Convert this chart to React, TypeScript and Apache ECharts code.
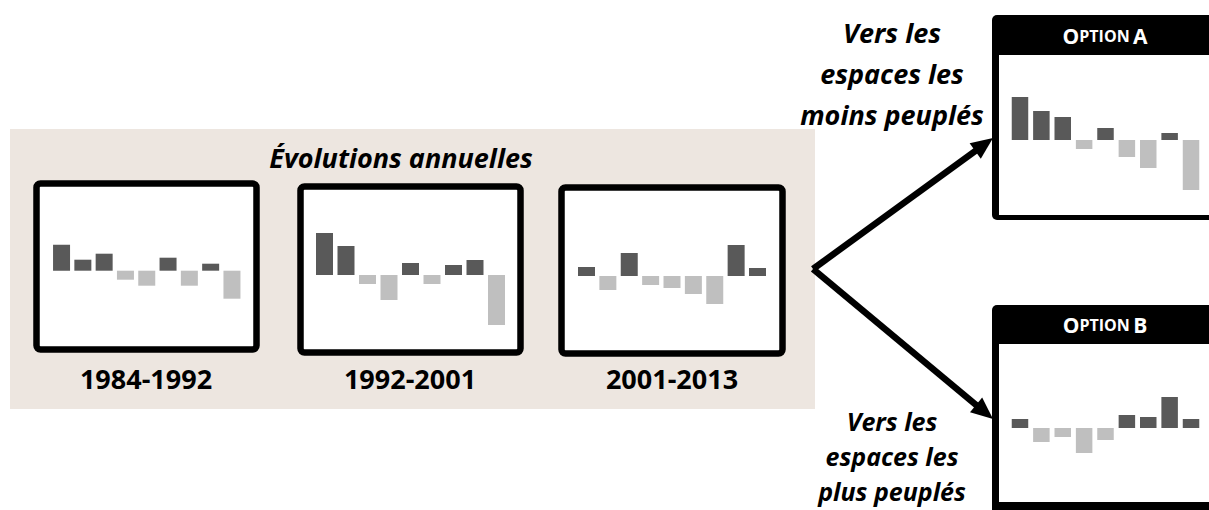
import React, { useEffect, useRef } from "react";
import * as echarts from "echarts";

const categories = ["R1", "R2", "R3", "R4", "R5", "R6", "R7", "R8", "R9"];
const periods = ["1984-1992", "1992-2001", "2001-2013"];
const values1984 = [26, 11, 17, -9, -15, 13, -15, 7, -28];
const values1992 = [42, 29, -9, -25, 12, -9, 10, 15, -50];
const values2001 = [9, -14, 23, -9, -12, -18, -28, 31, 8];
const valuesOptionA = [43, 29, 23, -9, 12, -17, -28, 7, -50];
const valuesOptionB = [9, -14, -9, -25, -12, 13, 11, 31, 9];
const optionLabels = ["A", "B"];
const title = "Évolutions annuelles";
const topCaption = ["Vers les", "espaces les", "moins peuplés"];
const bottomCaption = ["Vers les", "espaces les", "plus peuplés"];

const DARK = "#595959";
const LIGHT = "#BFBFBF";
const FONT = "'Open Sans', 'DejaVu Sans', sans-serif";

function arrow(x0: number, y0: number, x1: number, y1: number) {
  const dx = x1 - x0;
  const dy = y1 - y0;
  const len = Math.sqrt(dx * dx + dy * dy);
  const ux = dx / len;
  const uy = dy / len;
  const hl = 22;
  const hw = 9.5;
  const bx = x1 - ux * hl;
  const by = y1 - uy * hl;
  return [
    {
      type: "line",
      shape: { x1: x0, y1: y0, x2: bx + ux * 2, y2: by + uy * 2 },
      style: { stroke: "#000", lineWidth: 6.5, lineCap: "butt" },
      z: 5,
    },
    {
      type: "polygon",
      shape: {
        points: [
          [x1, y1],
          [bx - uy * hw, by + ux * hw],
          [bx + uy * hw, by - ux * hw],
        ],
      },
      style: { fill: "#000" },
      z: 5,
    },
  ];
}

export default function App() {
  const ref = useRef<HTMLDivElement>(null);
  useEffect(() => {
    if (!ref.current) return;
    const chart = echarts.init(ref.current, null, { renderer: "svg" });

    const sets = [values1984, values1992, values2001, valuesOptionA, valuesOptionB];
    const grids = [
      { left: 50.9, top: 200.7, width: 191.7, height: 140 },
      { left: 313.75, top: 205, width: 193.5, height: 140 },
      { left: 575.8, top: 206, width: 192.4, height: 140 },
      { left: 1009.3, top: 70, width: 192.4, height: 140 },
      { left: 1009.3, top: 358, width: 192.4, height: 140 },
    ];

    const boxStyle = { fill: "#fff", stroke: "#000", lineWidth: 6.5 };
    const graphics: any[] = [
      { type: "rect", shape: { x: 10, y: 129, width: 805, height: 280 }, style: { fill: "#EDE6E0" }, z: 0 },
      { type: "rect", shape: { x: 36.5, y: 183.5, width: 220, height: 166, r: 4 }, style: boxStyle, z: 1 },
      { type: "rect", shape: { x: 300.5, y: 186.5, width: 220, height: 166, r: 4 }, style: boxStyle, z: 1 },
      { type: "rect", shape: { x: 561.5, y: 187.5, width: 221, height: 166, r: 4 }, style: boxStyle, z: 1 },
      { type: "rect", shape: { x: 992, y: 15, width: 232, height: 205, r: 5 }, style: { fill: "#000" }, z: 1 },
      { type: "rect", shape: { x: 999, y: 55, width: 220, height: 160 }, style: { fill: "#fff" }, z: 1 },
      { type: "rect", shape: { x: 992, y: 305, width: 232, height: 210, r: 5 }, style: { fill: "#000" }, z: 1 },
      { type: "rect", shape: { x: 999, y: 344, width: 220, height: 158 }, style: { fill: "#fff" }, z: 1 },
      {
        type: "text",
        x: 401,
        y: 157,
        style: {
          text: title,
          font: `italic bold 27px ${FONT}`,
          fill: "#000",
          textAlign: "center",
          textVerticalAlign: "middle",
        },
        z: 3,
      },
      ...periods.map((p, i) => ({
        type: "text",
        x: [146, 410, 672][i],
        y: 378,
        style: {
          text: p,
          font: `bold 27px ${FONT}`,
          fill: "#000",
          textAlign: "center",
          textVerticalAlign: "middle",
        },
        z: 3,
      })),
      ...optionLabels.map((l, i) => ({
        type: "text",
        x: 1105,
        y: [36, 325][i],
        style: {
          text: `{b|O}{s|PTION} {b|${l}}`,
          fill: "#fff",
          textAlign: "center",
          textVerticalAlign: "middle",
          rich: {
            b: { fontSize: 21, fontWeight: "bold", fontFamily: FONT, fill: "#fff", color: "#fff" },
            s: { fontSize: 16, fontWeight: "bold", fontFamily: FONT, fill: "#fff", color: "#fff" },
          },
        },
        z: 3,
      })),
      ...topCaption.map((t, i) => ({
        type: "text",
        x: 892,
        y: [32, 73, 114][i],
        style: {
          text: t,
          font: `italic bold 27px ${FONT}`,
          fill: "#000",
          textAlign: "center",
          textVerticalAlign: "middle",
        },
        z: 3,
      })),
      ...bottomCaption.map((t, i) => ({
        type: "text",
        x: 892,
        y: [421, 456, 491][i],
        style: {
          text: t,
          font: `italic bold 25px ${FONT}`,
          lineHeight: 28,
          fill: "#000",
          textAlign: "center",
          textVerticalAlign: "middle",
        },
        z: 3,
      })),
      ...arrow(813, 269, 993, 138),
      ...arrow(813, 269, 993, 419),
    ];

    chart.setOption({
      animation: false,
      grid: grids.map((g) => ({ ...g, containLabel: false })),
      xAxis: grids.map((_, i) => ({
        type: "category",
        gridIndex: i,
        data: categories,
        show: false,
        boundaryGap: true,
      })),
      yAxis: grids.map((_, i) => ({
        type: "value",
        gridIndex: i,
        min: -70,
        max: 70,
        show: false,
      })),
      graphic: { elements: graphics },
      series: sets.map((vals, i) => ({
        type: "bar",
        xAxisIndex: i,
        yAxisIndex: i,
        barWidth: i >= 3 ? 16.5 : 17,
        z: 10,
        data: vals.map((v) => ({ value: v, itemStyle: { color: v >= 0 ? DARK : LIGHT } })),
      })),
    });

    return () => chart.dispose();
  }, []);

  return (
    <div
      ref={ref}
      style={{ position: "fixed", left: 0, top: 0, width: 1209, height: 510, background: "#fff" }}
    />
  );
}
